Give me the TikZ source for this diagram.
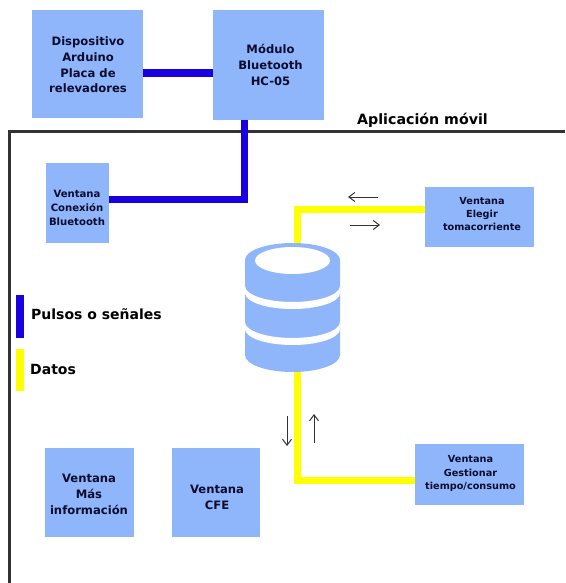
\documentclass[tikz,border=0pt]{standalone}
\usepackage{fontspec}
\setmainfont{DejaVu Sans}
\usetikzlibrary{arrows.meta}
\definecolor{boxblue}{HTML}{8FB5FB}
\definecolor{inkdark}{HTML}{0C0C30}
\definecolor{pulse}{HTML}{1A00E0}
\definecolor{datos}{HTML}{FFFF00}
\tikzset{
  win/.style={fill=boxblue,draw=none,inner sep=0pt},
  wintext/.style={inner sep=0pt,align=center,text=inkdark},
  big/.style={font=\bfseries\fontsize{11.6}{15.7}\selectfont},
  mid/.style={font=\bfseries\fontsize{10.1}{13.8}\selectfont},
  tiny/.style={font=\bfseries\fontsize{9.7}{13.4}\selectfont},
  pulseline/.style={draw=pulse,line width=7pt,line cap=butt,line join=miter},
  dataline/.style={draw=datos,line width=7pt,line cap=butt,line join=miter},
  thinarrow/.style={->,>={Straight Barb[length=6pt,width=9pt]},draw=black!80,line width=1pt},
  legendbar/.style={inner sep=0pt,minimum width=8pt,minimum height=43pt},
  lab/.style={inner sep=0pt,anchor=west,text=black,font=\bfseries\fontsize{14}{16}\selectfont}
}
\begin{document}
\begin{tikzpicture}[x=1pt,y=-1pt]
\useasboundingbox (0,0) rectangle (565,583);
% frame
\coordinate (ftr) at (565,131);
\coordinate (ftl) at (9,131);
\coordinate (fbl) at (9,583);
\draw[draw=black!80,line width=3pt] (ftr) -- (ftl) -- (fbl);
% boxes
\node[win,minimum width=111pt,minimum height=108pt] (ard) at (87.5,64) {};
\node[win,minimum width=111pt,minimum height=110pt] (mod) at (268.5,65) {};
\node[win,minimum width=63pt,minimum height=80pt] (con) at (77.5,203) {};
\node[win,minimum width=109pt,minimum height=60pt] (ele) at (479.5,217) {};
\node[win,minimum width=109pt,minimum height=61pt] (ges) at (469.5,474.5) {};
\node[win,minimum width=89pt,minimum height=89pt] (mas) at (89.5,492.5) {};
\node[win,minimum width=88pt,minimum height=89pt] (cfe) at (216,492.5) {};
\node[wintext,big] (ardt) at (88,65) {Dispositivo\\Arduino\\Placa de\\relevadores};
\node[wintext,big] (modt) at (270.5,65) {Módulo\\Bluetooth\\HC-05};
\node[wintext,mid] (cont) at (77,208) {Ventana\\Conexión\\Bluetooth};
\node[wintext,tiny] (elet) at (482,214) {Ventana\\Elegir\\tomacorriente};
\node[wintext,tiny] (gest) at (470.5,473.5) {Ventana\\Gestionar\\tiempo/consumo};
\node[wintext,big] (mast) at (89,494.5) {Ventana\\Más\\información};
\node[wintext,big] (cfet) at (217,497) {Ventana\\CFE};
\node[minimum width=95pt,minimum height=129pt,inner sep=0pt] (db) at (292.5,307.5) {};
% connectors
\draw[pulseline,line width=8pt] (ard.east |- 0,73) -- (mod.west |- 0,73);
\coordinate (bend1) at (244,199);
\draw[pulseline] (mod.south -| bend1) -- (bend1) -- (con.east |- bend1);
\coordinate (bend2) at (297,209);
\draw[dataline] (db.north -| bend2) -- (bend2) -- (ele.west |- bend2);
\coordinate (bend3) at (297.5,480);
\draw[dataline] (db.south -| bend3) -- (bend3) -- (ges.west |- bend3);
% cylinder
\fill[boxblue] (245,260) arc[start angle=180,end angle=0,x radius=47.5pt,y radius=17pt] -- (340,355) arc[start angle=0,end angle=-180,x radius=47.5pt,y radius=17pt] -- cycle;
\fill[white] (292.5,260.5) ellipse[x radius=37.5pt,y radius=13.5pt];
\fill[white] (245,286) arc[start angle=180,end angle=360,x radius=47.5pt,y radius=16pt] -- (340,293) arc[start angle=0,end angle=-180,x radius=47.5pt,y radius=16pt] -- cycle;
\fill[white] (245,322) arc[start angle=180,end angle=360,x radius=47.5pt,y radius=16pt] -- (340,329) arc[start angle=0,end angle=-180,x radius=47.5pt,y radius=16pt] -- cycle;
% small arrows
\coordinate (a1s) at (378,197); \coordinate (a1e) at (348,197);
\coordinate (a2s) at (350,225); \coordinate (a2e) at (380,225);
\coordinate (a3s) at (287,416); \coordinate (a3e) at (287,446);
\coordinate (a4s) at (314,443); \coordinate (a4e) at (314,414);
\draw[thinarrow] (a1s) -- (a1e);
\draw[thinarrow] (a2s) -- (a2e);
\draw[thinarrow] (a3s) -- (a3e);
\draw[thinarrow] (a4s) -- (a4e);
% labels
\node[lab,font=\bfseries\fontsize{14.2}{16}\selectfont] (app) at (357,120) {Aplicación móvil};
\node[legendbar,fill=pulse] (lb) at (20,316.5) {};
\node[legendbar,fill=datos,minimum height=42pt] (ly) at (20,370) {};
\node[lab] (lt1) at (31,314) {Pulsos o señales};
\node[lab] (lt2) at (30,369) {Datos};
\end{tikzpicture}
\end{document}
